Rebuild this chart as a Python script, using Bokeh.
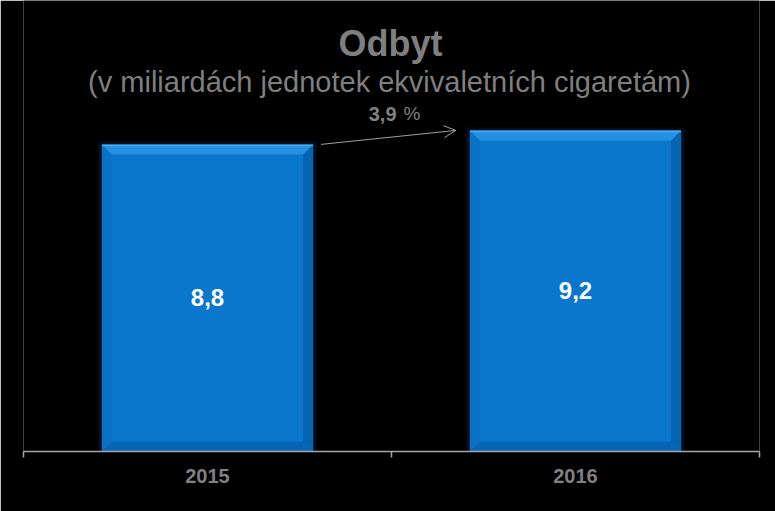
import numpy as np
from bokeh.plotting import figure
from bokeh.models import (ColumnDataSource, Range1d, FixedTicker, Label, Arrow, OpenHead)
from bokeh.core.properties import value
from bokeh.embed import file_html
from bokeh.resources import INLINE

# ---- data ----
years = ["2015", "2016"]
volumes = [8.8, 9.2]
change_label = "3,9"
title_text = "Odbyt"
subtitle_text = "(v miliardách jednotek ekvivaletních cigaretám)"

# ---- styling / geometry ----
W, H = 775, 511
LEFT, RIGHT, BOTTOM = 23, 16, 60
FRAME_W = W - LEFT - RIGHT          # 736
FRAME_H = H - BOTTOM                # 451
PX_X = FRAME_W / len(years)         # px per category unit
PX_Y = 34.9                         # px per value unit
Y_END = FRAME_H / PX_Y
BAR_W = 0.574
FONT = "Liberation Sans"
GREY = "#808080"
LABEL_SHIFT = 10                    # empirical baseline correction (px)

MAIN = "#0A76CC"
TOP_C = "#2590E2"
TOP_EDGE = "#4AA9EE"
LEFT_C = "#0A72C6"
RIGHT_C = "#0764B0"
BOT_C = "#0766B3"


def px_x(px):
    return (px - LEFT) / PX_X


def px_y(py):
    return (FRAME_H - (py - LABEL_SHIFT)) / PX_Y


p = figure(width=W, height=H, output_backend="svg", toolbar_location=None,
           x_range=Range1d(0, len(years)), y_range=Range1d(0, Y_END),
           y_axis_location=None, min_border_left=LEFT, min_border_right=RIGHT,
           min_border_top=0, min_border_bottom=BOTTOM)
p.background_fill_color = "black"
p.border_fill_color = "black"
p.outline_line_color = None
p.grid.visible = False

centers = np.arange(len(years)) + 0.5
vals = np.array(volumes)

# soft dark shadow behind bars
gx = 4 / PX_X
p.quad(left=centers - BAR_W / 2 - gx, right=centers + BAR_W / 2 + gx,
       bottom=0, top=vals + 3 / PX_Y, fill_color="#061a30", fill_alpha=0.45, line_color=None)

# main bars
p.vbar(x=centers, top=vals, width=BAR_W, bottom=0, fill_color=MAIN, line_color=None)

# bevels
bx = 10 / PX_X
by = 10 / PX_Y
tops_x, tops_y, lefts_x, lefts_y, rights_x, rights_y, bots_x, bots_y = [], [], [], [], [], [], [], []
for c, v in zip(centers, vals):
    l, r = c - BAR_W / 2, c + BAR_W / 2
    tops_x.append([l, r, r - bx, l + bx]); tops_y.append([v, v, v - by, v - by])
    lefts_x.append([l, l, l + bx, l + bx]); lefts_y.append([0, v, v - by, by])
    rights_x.append([r, r, r - bx, r - bx]); rights_y.append([0, v, v - by, by])
    bots_x.append([l, r, r - bx, l + bx]); bots_y.append([0, 0, by, by])
p.patches(lefts_x, lefts_y, fill_color=LEFT_C, line_color=None)
p.patches(rights_x, rights_y, fill_color=RIGHT_C, line_color=None)
p.patches(bots_x, bots_y, fill_color=BOT_C, line_color=None)
p.patches(tops_x, tops_y, fill_color=TOP_C, line_color=None)
p.segment(x0=centers - BAR_W / 2, x1=centers + BAR_W / 2, y0=vals - 1 / PX_Y, y1=vals - 1 / PX_Y,
          line_color=TOP_EDGE, line_width=1.5)

# value labels
src = ColumnDataSource(dict(x=centers, y=vals / 2,
                            t=[f"{v:.1f}".replace(".", ",") for v in volumes]))
p.text(x="x", y="y", text="t", source=src, text_color="white", text_font=value(FONT),
       text_font_style="bold", text_font_size="24px", text_align="center",
       text_baseline="middle")

# axis
p.xaxis.ticker = FixedTicker(ticks=list(centers), minor_ticks=list(np.arange(len(years) + 1)))
p.xaxis.major_label_overrides = {float(c): y for c, y in zip(centers, years)}
p.xaxis.axis_line_color = "#a6a6a6"
p.xaxis.axis_line_width = 1.5
p.xaxis.major_tick_line_color = None
p.xaxis.major_tick_out = 0
p.xaxis.major_tick_in = 0
p.xaxis.minor_tick_line_color = "#a6a6a6"
p.xaxis.minor_tick_line_width = 1.5
p.xaxis.minor_tick_out = 6
p.xaxis.minor_tick_in = 0
p.xaxis.major_label_standoff = 11
p.xaxis.major_label_text_font = FONT
p.xaxis.major_label_text_font_style = "bold"
p.xaxis.major_label_text_font_size = "20px"
p.xaxis.major_label_text_color = GREY

# change arrow
p.add_layout(Arrow(x_start=centers[0] + BAR_W / 2 + 8 / PX_X, y_start=vals[0],
                   x_end=centers[1] - BAR_W / 2 - 14 / PX_X, y_end=vals[1],
                   line_color="#a0a0a0", line_width=1,
                   end=OpenHead(size=12, line_color="#a0a0a0", line_width=1)))
p.add_layout(Label(x=px_x(396), y=px_y(123), text=change_label, text_font=FONT,
                   text_font_style="bold", text_font_size="20px", text_color=GREY,
                   text_align="right", text_baseline="alphabetic"))
p.add_layout(Label(x=px_x(403), y=px_y(123), text="%", text_font=FONT,
                   text_font_size="19px", text_color=GREY,
                   text_align="left", text_baseline="alphabetic"))

# titles
p.add_layout(Label(x=px_x(390), y=px_y(53), text=title_text, text_font=FONT,
                   text_font_style="bold", text_font_size="36px", text_color="#7f7f7f",
                   text_align="center", text_baseline="alphabetic"))
p.add_layout(Label(x=px_x(389), y=px_y(91), text=subtitle_text, text_font=FONT,
                   text_font_size="29px", text_color="#7f7f7f",
                   text_align="center", text_baseline="alphabetic"))

open("out.html", "w").write(file_html(p, INLINE))
